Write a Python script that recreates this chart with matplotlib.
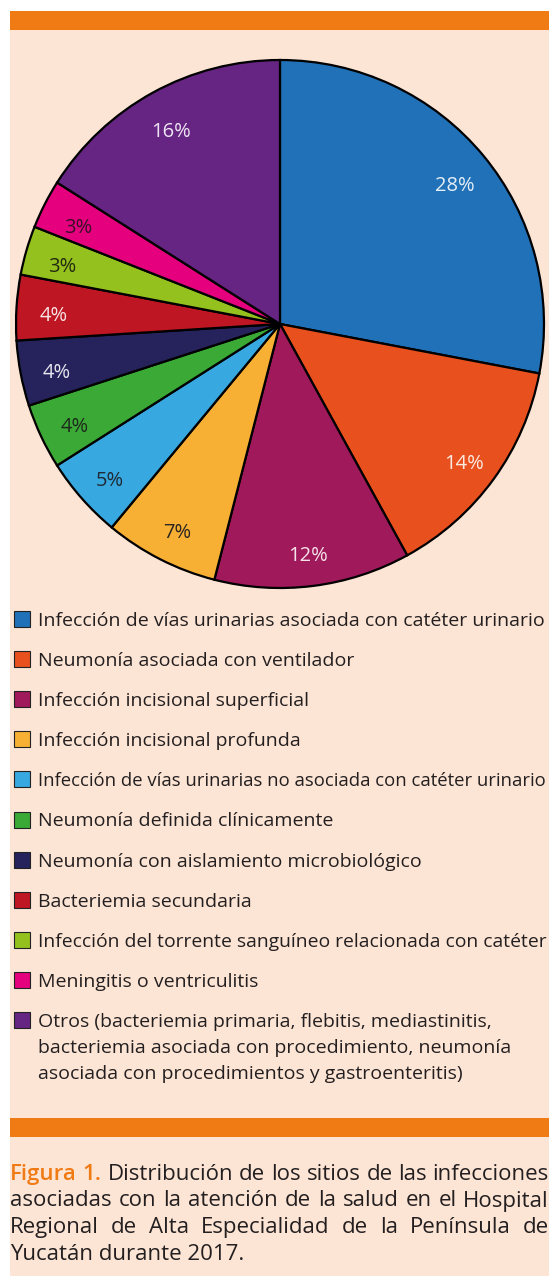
import numpy as np
import matplotlib.pyplot as plt
from matplotlib.patches import Rectangle

# data
categories = [
    "Infección de vías urinarias asociada con catéter urinario",
    "Neumonía asociada con ventilador",
    "Infección incisional superficial",
    "Infección incisional profunda",
    "Infección de vías urinarias no asociada con catéter urinario",
    "Neumonía definida clínicamente",
    "Neumonía con aislamiento microbiológico",
    "Bacteriemia secundaria",
    "Infección del torrente sanguíneo relacionada con catéter",
    "Meningitis o ventriculitis",
    "Otros (bacteriemia primaria, flebitis, mediastinitis,\nbacteriemia asociada con procedimiento, neumonía\nasociada con procedimientos y gastroenteritis)",
]
values = [28, 14, 12, 7, 5, 4, 4, 4, 3, 3, 16]

colors = ["#2071B8", "#E8501E", "#A0195A", "#F7B034", "#38A8E0", "#3BA935",
          "#26235C", "#BE1622", "#95C11F", "#E5007E", "#662483"]
label_colors = ["#E6EEF7", "#FBE9E0", "#F5E1EA", "#2A2520", "#1E2A35", "#1D2A1C",
                "#E6E6F0", "#F7E4E4", "#222A10", "#3A1028", "#EDE3F2"]

caption = ["Figura 1. Distribución de los sitios de las infecciones",
           "asociadas con la atención de la salud en el Hospital",
           "Regional de Alta Especialidad de la Península de",
           "Yucatán durante 2017."]

W, H = 549, 1276
peach = "#FDE5D5"
orange = "#F07A14"
ink = "#231F20"

plt.rcParams['font.family'] = ['Open Sans', 'DejaVu Sans']

fig = plt.figure(figsize=(W / 100, H / 100), dpi=100)
bg = fig.add_axes([0, 0, 1, 1])
bg.set_xlim(0, W)
bg.set_ylim(H, 0)
bg.axis('off')

bg.add_patch(Rectangle((10, 11), W - 10, H - 11, color=peach, lw=0))
bg.add_patch(Rectangle((10, 11), W - 10, 19, color=orange, lw=0))
bg.add_patch(Rectangle((10, 1118), W - 10, 19, color=orange, lw=0))

# pie
cx, cy, r = 280, 324, 264
pad = 1.05
ax = fig.add_axes([(cx - r * pad) / W, 1 - (cy + r * pad) / H, 2 * r * pad / W, 2 * r * pad / H])
wedges, _, autotexts = ax.pie(values, colors=colors, startangle=90, counterclock=False,
                              autopct=lambda p: f"{p:.0f}%", pctdistance=0.86,
                              wedgeprops=dict(edgecolor='black', linewidth=1.6),
                              textprops=dict(fontsize=14.5))
for t, c in zip(autotexts, label_colors):
    t.set_color(c)
    t.set_y(t.get_position()[1] - 0.025)
ax.set_xlim(-pad, pad)
ax.set_ylim(-pad, pad)
ax.set_aspect('equal')
ax.axis('off')

renderer = fig.canvas.get_renderer()

# legend (shrink a row only if it would run past the right edge)
y0 = 626
tx, right = 38, 547
for i, (name, c) in enumerate(zip(categories, colors)):
    yb = y0 + 40.1 * i
    bg.add_patch(Rectangle((14, yb - 15), 16, 16, facecolor=c, edgecolor='#222222', lw=0.8))
    for j, line in enumerate(name.split("\n")):
        t = bg.text(tx, yb + 26 * j, line, fontsize=14, va='baseline', color=ink)
        w = t.get_window_extent(renderer).width
        if tx + w > right:
            t.set_fontsize(14 * (right - tx) / w)

# caption, justified
x0, x1 = 10, 549
base = 1180
for k, line in enumerate(caption):
    yb = base + 26.5 * k
    if k == len(caption) - 1:
        bg.text(x0, yb, line, fontsize=16, va='baseline', color=ink)
        continue
    words = line.split(" ")
    texts = []
    for j, w in enumerate(words):
        if k == 0 and j < 2:
            t = bg.text(0, yb, w, fontsize=16, va='baseline', color=orange, fontweight='semibold')
        else:
            t = bg.text(0, yb, w, fontsize=16, va='baseline', color=ink)
        texts.append(t)
    widths = [t.get_window_extent(renderer).width for t in texts]
    gap = max((x1 - x0 - sum(widths)) / (len(words) - 1), 3)
    x = x0
    for t, w in zip(texts, widths):
        t.set_x(x)
        x += w + gap

fig.savefig("out.png", dpi=100)
